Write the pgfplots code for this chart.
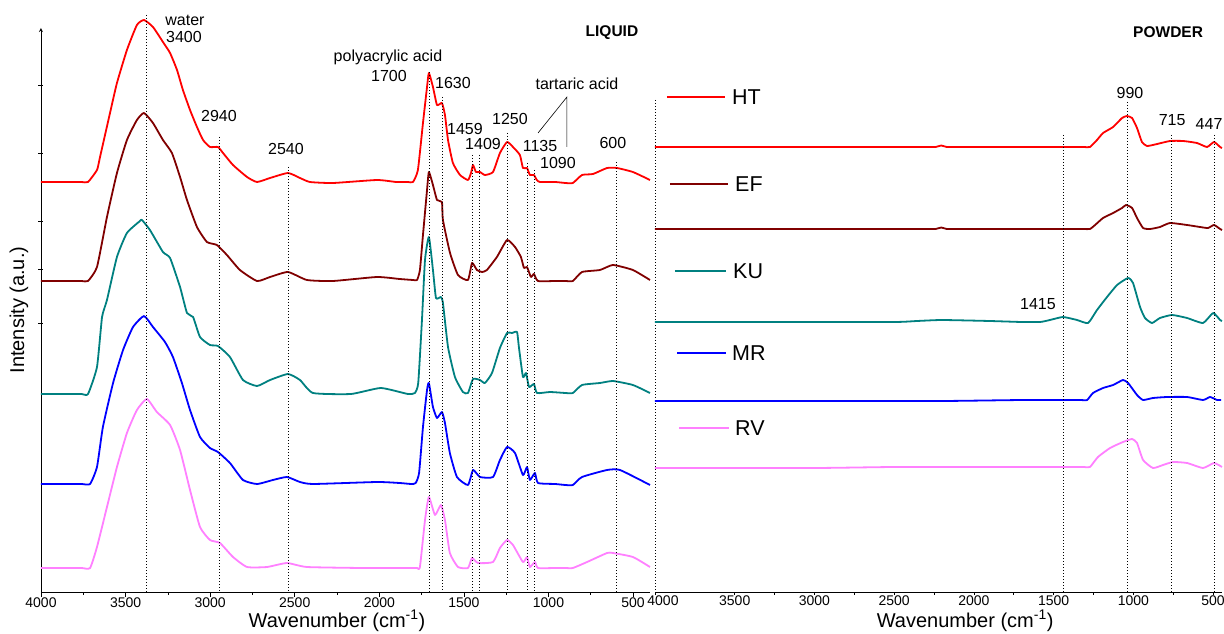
\documentclass[border=0pt]{standalone}
\usepackage{fontspec}
\setmainfont{Liberation Sans}
\usepackage{pgfplots}
\pgfplotsset{compat=1.18}
\definecolor{cHT}{RGB}{255,0,0}
\definecolor{cEF}{RGB}{128,0,0}
\definecolor{cKU}{RGB}{0,128,128}
\definecolor{cMR}{RGB}{0,0,255}
\definecolor{cRV}{RGB}{255,128,255}
\tikzset{dl/.style={black,line width=0.8pt,dash pattern=on 1.2pt off 1.8pt},
  ann/.style={font=\fontsize{16}{18}\selectfont,inner sep=0pt},
  leg/.style={font=\fontsize{21.5}{24}\selectfont,inner sep=0pt,anchor=west}}
\pgfplotsset{base/.style={
  scale only axis, height=564pt, ymin=41, ymax=605, x dir=reverse,
  clip=false, axis x line=bottom, axis line style={-, line width=0.8pt},
  tick align=outside, major tick length=3pt, minor tick length=2.5pt,
  minor x tick num=1,
  tick style={black, line width=0.7pt},
  /pgf/number format/assume math mode=true,
  /pgf/number format/1000 sep={},
  xticklabel style={font=\fontsize{14}{16}\selectfont, inner sep=1pt},
  every axis plot/.append style={line width=1.8pt, line join=round, no marks, smooth, tension=0.3}
}}
\begin{document}
\begin{tikzpicture}
\useasboundingbox (0,0) rectangle (1224pt,633pt);
% ---------------- LIQUID ----------------
\begin{axis}[base, at={(41pt,41pt)}, anchor=south west, width=609pt,
  xmin=400, xmax=4000, axis y line=left, xtick={500,1000,...,4000},
  ytick={548,480,412,364,310}, yticklabels={}, major tick length=5pt]
\addplot[cHT] coordinates {(4000,451)(3850,451)(3760,451)(3722,451)(3669,463)(3651,476)(3592,520)(3551,550)(3492,583)(3433,608)(3391,613)(3338,606)(3279,591)(3237,580)(3196,563)(3161,543)(3119,523)(3078,506)(3042,493)(3001,486)(2954,486)(2924,480)(2865,468)(2782,456)(2723,451)(2646,455)(2540,460)(2469,455)(2410,451)(2274,450)(2014,453)(1900,451)(1830,451)(1801,451)(1772,463)(1742,510)(1718,546)(1707,560)(1683,546)(1659,528)(1630,530)(1612,518)(1594,493)(1565,470)(1523,458)(1476,453)(1458,460)(1446,468)(1429,461)(1405,461)(1376,458)(1328,461)(1287,480)(1245,491)(1210,486)(1169,478)(1151,465)(1127,465)(1110,458)(1086,458)(1069,453)(1051,451)(960,451)(900,450)(856,450)(802,458)(737,459)(654,465)(595,465)(501,461)(400,453)};
\addplot[cEF] coordinates {(4000,352)(3850,352)(3760,352)(3722,352)(3669,366)(3610,416)(3551,460)(3492,493)(3433,513)(3391,520)(3338,510)(3279,493)(3226,480)(3178,456)(3137,433)(3078,406)(3019,391)(2960,388)(2901,378)(2824,363)(2723,352)(2646,356)(2540,361)(2428,353)(2274,352)(2014,356)(1880,354)(1800,353)(1777,353)(1760,363)(1742,398)(1718,443)(1707,461)(1683,448)(1659,433)(1630,431)(1624,413)(1582,380)(1535,358)(1476,353)(1452,370)(1423,363)(1393,361)(1364,363)(1305,376)(1245,393)(1198,386)(1163,376)(1145,365)(1127,366)(1104,356)(1086,359)(1062,352)(960,352)(900,352)(856,352)(802,361)(696,363)(619,368)(501,363)(400,353)};
\addplot[cKU] coordinates {(4000,239)(3850,239)(3760,239)(3722,239)(3669,266)(3639,316)(3610,333)(3551,376)(3492,400)(3415,412)(3403,413)(3356,403)(3279,381)(3237,375)(3178,346)(3137,320)(3101,316)(3060,296)(3001,288)(2954,287)(2883,276)(2806,253)(2723,247)(2646,253)(2540,259)(2469,253)(2392,240)(2168,239)(1991,245)(1831,239)(1790,240)(1770,250)(1748,313)(1730,373)(1707,396)(1683,363)(1665,335)(1636,336)(1624,330)(1594,286)(1553,256)(1506,241)(1476,240)(1446,254)(1405,253)(1376,250)(1334,260)(1287,285)(1245,300)(1216,300)(1186,301)(1175,286)(1151,256)(1133,260)(1115,246)(1086,249)(1068,240)(991,241)(900,240)(856,240)(802,248)(696,250)(619,252)(501,248)(400,240)};
\addplot[cMR] coordinates {(4000,149)(3850,149)(3760,149)(3710,149)(3669,166)(3634,206)(3574,250)(3515,283)(3456,306)(3391,317)(3338,306)(3267,291)(3220,276)(3167,250)(3119,223)(3060,196)(3001,185)(2954,181)(2883,170)(2806,153)(2723,149)(2629,153)(2546,156)(2469,151)(2392,149)(2014,151)(1880,150)(1810,149)(1785,150)(1765,160)(1742,206)(1718,243)(1707,250)(1683,226)(1659,215)(1630,221)(1612,210)(1583,180)(1541,156)(1476,148)(1446,163)(1405,156)(1328,156)(1287,173)(1245,186)(1198,180)(1151,158)(1127,166)(1110,153)(1080,160)(1062,150)(960,149)(900,148)(856,148)(802,156)(654,163)(577,163)(400,148)};
\addplot[cRV] coordinates {(4000,65)(3850,65)(3760,65)(3710,65)(3669,86)(3610,126)(3551,166)(3492,200)(3433,223)(3374,234)(3315,221)(3237,208)(3178,183)(3119,143)(3060,106)(3001,93)(2942,90)(2865,76)(2782,66)(2664,66)(2546,70)(2428,66)(2100,65)(1880,65)(1800,65)(1777,65)(1760,66)(1730,113)(1707,136)(1671,118)(1636,128)(1612,113)(1583,80)(1535,66)(1476,65)(1452,75)(1417,70)(1328,71)(1287,85)(1245,93)(1210,88)(1151,71)(1127,76)(1110,66)(1080,71)(1062,65)(960,65)(900,65)(856,65)(772,71)(654,80)(619,80)(501,76)(400,66)};
% dotted guide lines
\draw[dl] (axis cs:3379,618) -- (axis cs:3379,41);
\draw[dl] (axis cs:2947,496) -- (axis cs:2947,41);
\draw[dl] (axis cs:2539,466) -- (axis cs:2539,41);
\draw[dl] (axis cs:1706,561) -- (axis cs:1706,41);
\draw[dl] (axis cs:1629,536) -- (axis cs:1629,41);
\draw[dl] (axis cs:1451,478) -- (axis cs:1451,41);
\draw[dl] (axis cs:1410,478) -- (axis cs:1410,41);
\draw[dl] (axis cs:1244,500) -- (axis cs:1244,41);
\draw[dl] (axis cs:1126,470) -- (axis cs:1126,41);
\draw[dl] (axis cs:1085,463) -- (axis cs:1085,41);
\draw[dl] (axis cs:600,471) -- (axis cs:600,41);
\draw[dl] (axis cs:371,533) -- (axis cs:371,43);
% tartaric acid pointers
\draw[black,line width=0.6pt] (axis cs:1062,500) -- (axis cs:891,536) -- (axis cs:891,486);
% annotations
\node[ann] at (axis cs:3149,613) {water};
\node[ann] at (axis cs:3155,596) {3400};
\node[ann] at (axis cs:2948,517) {2940};
\node[ann] at (axis cs:2552,484) {2540};
\node[ann] at (axis cs:1949,576) {polyacrylic acid};
\node[ann] at (axis cs:1943,557) {1700};
\node[ann] at (axis cs:1565,550) {1630};
\node[ann] at (axis cs:1494,504) {1459};
\node[ann] at (axis cs:1387,489) {1409};
\node[ann] at (axis cs:1228,514) {1250};
\node[ann] at (axis cs:1050,487) {1135};
\node[ann] at (axis cs:944,470) {1090};
\node[ann] at (axis cs:832,549) {tartaric acid};
\node[ann] at (axis cs:619,490) {600};
\node[inner sep=0pt,font=\fontsize{15.5}{17}\selectfont\bfseries] at (axis cs:625,600) {LIQUID};
\node[rotate=90,inner sep=0pt,font=\fontsize{20}{22}\selectfont] at (axis description cs:-0.036,0.5) {Intensity (a.u.)};
\node[inner sep=0pt,font=\fontsize{20}{22}\selectfont] at (axis description cs:0.486,-0.051) {Wavenumber (cm\textsuperscript{-1})};
\end{axis}
% ---------------- POWDER ----------------
\begin{axis}[base, at={(655pt,41pt)}, anchor=south west, width=567pt,
  xmin=444, xmax=4000, axis y line=none, xtick={500,1000,...,3500},
  extra x ticks={4000},
  extra x tick style={xticklabel style={xshift=8pt}}]
\addplot[cHT] coordinates {(4000,486)(3000,486)(2300,486)(2240,486)(2205,487.5)(2170,486)(2100,486)(1800,486)(1500,486)(1380,486)(1310,486)(1272,486)(1228,493)(1190,500)(1127,506)(1071,515)(1040,517)(1008,515)(977,505)(946,491)(914,487)(851,489)(770,492)(688,492)(601,490)(538,486)(494,491)(456,486)(444,485)};
\addplot[cEF] coordinates {(4000,404)(3000,404)(2300,404)(2240,404)(2205,405.5)(2170,404)(2100,404)(1800,404)(1500,404)(1380,404)(1310,404)(1272,404)(1240,408)(1190,415)(1127,420)(1071,425)(1046,428)(1008,425)(977,415)(939,405)(895,404)(833,406)(770,410)(663,408)(582,406)(532,405)(494,408)(456,404)(444,403)};
\addplot[cKU] coordinates {(4000,311)(3200,311)(2500,311)(2357,312)(2200,313)(1900,312)(1700,311)(1585,311)(1523,313)(1441,316)(1353,313)(1284,310)(1228,323)(1165,336)(1102,348)(1033,355)(1002,350)(958,326)(927,315)(883,310)(833,315)(757,318)(663,315)(563,310)(500,320)(456,313)(444,312)};
\addplot[cMR] coordinates {(4000,232)(3000,232)(2200,232)(1700,233)(1500,233)(1390,233)(1330,233)(1290,233)(1253,240)(1190,245)(1127,248)(1065,253)(1033,250)(977,238)(939,233)(877,235)(789,236)(663,236)(563,233)(519,236)(475,233)(450,233)};
\addplot[cRV] coordinates {(4000,165)(3000,165)(2500,166)(1900,166)(1550,166)(1390,166)(1310,166)(1272,166)(1222,176)(1146,185)(1065,191)(1008,194)(977,190)(939,173)(877,165)(814,168)(751,171)(663,170)(563,165)(494,170)(444,166)};
\draw[dl] (axis cs:1441,498) -- (axis cs:1441,41);
\draw[dl] (axis cs:1040,531) -- (axis cs:1040,41);
\draw[dl] (axis cs:764,498) -- (axis cs:764,41);
\draw[dl] (axis cs:494,498) -- (axis cs:494,41);
\node[ann] at (axis cs:1021,540) {990};
\node[ann] at (axis cs:757,513) {715};
\node[ann] at (axis cs:525,509) {447};
\node[ann] at (axis cs:1598,329) {1415};
\node[inner sep=0pt,font=\fontsize{15.5}{17}\selectfont\bfseries] at (axis cs:782,601) {POWDER};
% legend
\draw[cHT,line width=1.8pt] (axis cs:3925,536) -- (axis cs:3561,536);
\node[leg] at (axis cs:3517,536) {HT};
\draw[cEF,line width=1.8pt] (axis cs:3906,449) -- (axis cs:3542,449);
\node[leg] at (axis cs:3498,449) {EF};
\draw[cKU,line width=1.8pt] (axis cs:3875,362) -- (axis cs:3555,362);
\node[leg] at (axis cs:3511,362) {KU};
\draw[cMR,line width=1.8pt] (axis cs:3862,280) -- (axis cs:3555,280);
\node[leg] at (axis cs:3517,280) {MR};
\draw[cRV,line width=1.8pt] (axis cs:3849,205) -- (axis cs:3536,205);
\node[leg] at (axis cs:3498,205) {RV};
\node[inner sep=0pt,font=\fontsize{20}{22}\selectfont] at (axis description cs:0.547,-0.051) {Wavenumber (cm\textsuperscript{-1})};
\end{axis}
\end{tikzpicture}
\end{document}
